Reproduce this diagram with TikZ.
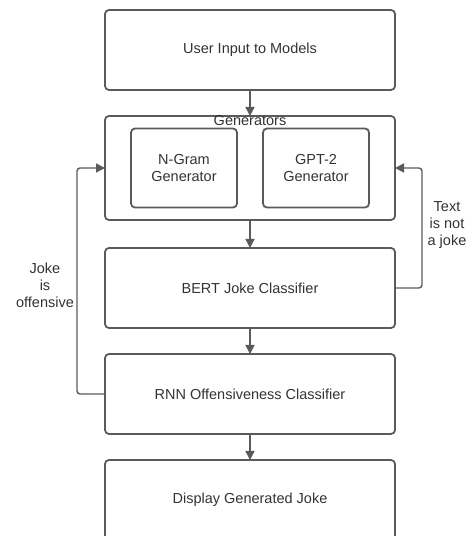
\documentclass[tikz,border=0pt]{standalone}
\usepackage{fontspec}
\setmainfont{Liberation Sans}
\usetikzlibrary{positioning,arrows.meta}
\definecolor{linegray}{HTML}{5A5A5A}
\definecolor{txtgray}{HTML}{333333}
\newcommand{\labfont}{\fontsize{14.5}{17}\selectfont}

\begin{document}
\begin{tikzpicture}[x=1pt, y=1pt,
  node distance=26pt,
  box/.style={draw=linegray, line width=1.8pt, rounded corners=4pt, align=center, font=\labfont, text=txtgray, minimum width=290pt, minimum height=80pt, inner sep=0pt, outer sep=0pt},
  subbox/.style={box, minimum width=106pt, minimum height=79pt},
  note/.style={align=center, font=\labfont, text=txtgray},
  arr/.style={-{Triangle[length=9pt, width=9pt]}, line width=1.4pt, draw=linegray},
  fb/.style={arr, rounded corners=3pt}]
\useasboundingbox (0,0) rectangle (467,536);
\node[box] (input) at (250,486) {User Input to Models};
\node[box, minimum height=104pt, below=of input] (gen) {};
\node[note] (genlbl) at ([yshift=-5pt]gen.north) {Generators};
\node[subbox] (ngram) at ([xshift=-66pt]gen.center) {N-Gram\\Generator};
\node[subbox] (gpt) at ([xshift=66pt]gen.center) {GPT-2\\Generator};
\node[box, below=28pt of gen] (bert) {BERT Joke Classifier};
\node[box, below=of bert] (rnn) {RNN Offensiveness Classifier};
\node[box, below=of rnn] (show) {Display Generated Joke};
\node[note] (offlbl) at (45,251) {Joke\\is\\offensive};
\node[note] (notlbl) at (447,311) {Text\\is not\\a joke};
\draw[arr] (input) -- (gen);
\draw[arr] (gen) -- (bert);
\draw[arr] (bert) -- (rnn);
\draw[arr] (rnn) -- (show);
\draw[fb] (rnn.west) -- ++(-28,0) |- (gen.west);
\draw[fb] (bert.east) -- ++(27,0) |- (gen.east);
\end{tikzpicture}
\end{document}
